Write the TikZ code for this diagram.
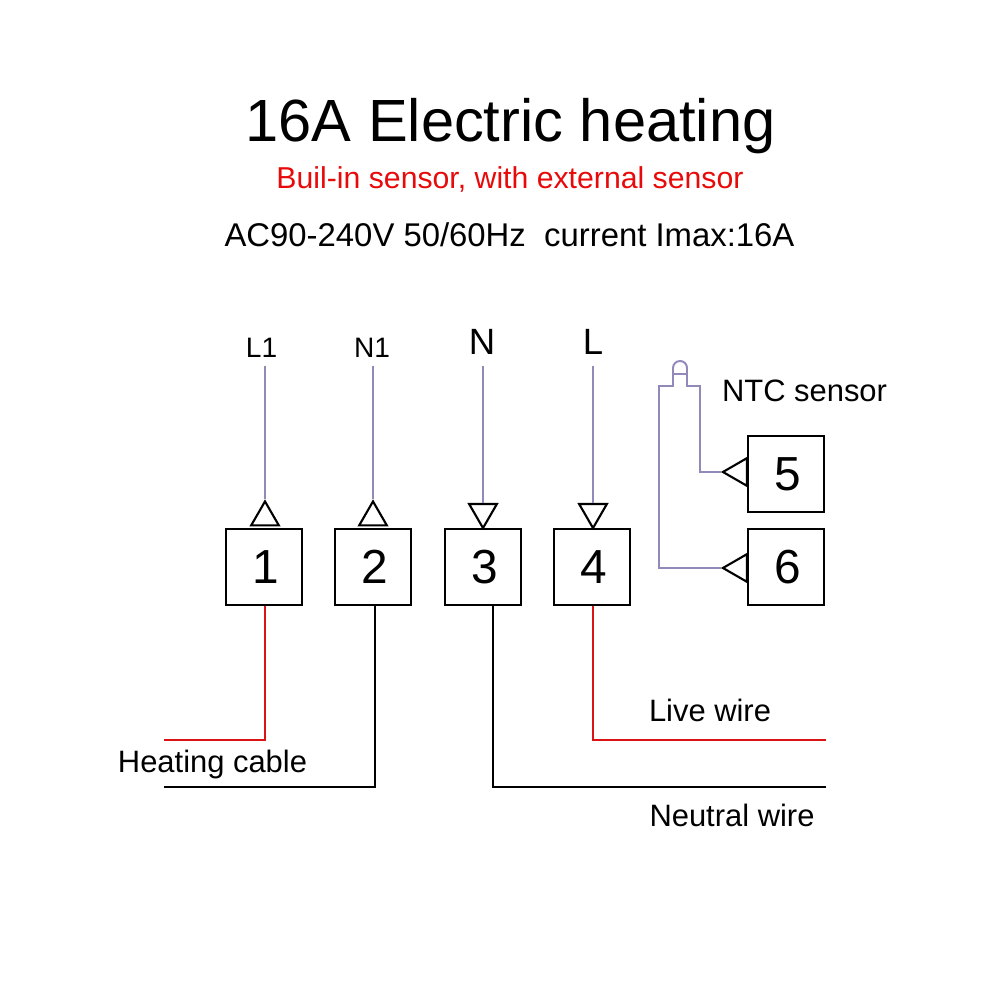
\documentclass[tikz,border=0pt]{standalone}
\usepackage{fontspec}
\setmainfont{Liberation Sans}
\usetikzlibrary{shapes.geometric, positioning}

\definecolor{wirepurple}{RGB}{146,136,186}
\definecolor{wirered}{RGB}{218,20,20}
\definecolor{textred}{RGB}{232,10,10}

\begin{document}
\begin{tikzpicture}[
    terminal/.style={rectangle, draw=black, line width=0.6pt, minimum size=0.755cm, inner sep=0pt, font=\fontsize{13.6}{13.6}\selectfont, execute at begin node={\hspace{0.03cm}}},
    tip/.style={regular polygon, regular polygon sides=3, draw=black, line width=0.6pt, fill=white, minimum size=0.32cm, inner sep=0pt},
    sensorwire/.style={draw=wirepurple, line width=0.55pt},
    livewire/.style={draw=wirered, line width=0.55pt},
    neutralwire/.style={draw=black, line width=0.55pt},
    label/.style={anchor=base, inner sep=0pt, font=\fontsize{8.8}{8.8}\selectfont},
    bigpin/.style={anchor=base, inner sep=0pt, font=\fontsize{10.4}{10.4}\selectfont},
    smallpin/.style={anchor=base, inner sep=0pt, font=\fontsize{8}{8}\selectfont}
]
    \useasboundingbox (0,0) rectangle (10,10);

    % Headings
    \node[anchor=base, inner sep=0pt, font=\fontsize{16.95}{16.95}\selectfont] (title) at (5.105,8.58) {16A Electric heating};
    \node[anchor=base, inner sep=0pt, text=textred, font=\fontsize{8.6}{8.6}\selectfont] (subtitle) at (5.10,8.11) {Buil-in sensor, with external sensor};
    \node[anchor=base, inner sep=0pt, font=\fontsize{9.35}{9.35}\selectfont] (rating) at (5.095,7.535) {AC90-240V 50/60Hz\ \ current Imax:16A};

    % Terminals
    \node[terminal] (t1) at (2.64,4.33) {1};
    \node[terminal] (t2) at (3.73,4.33) {2};
    \node[terminal] (t3) at (4.83,4.33) {3};
    \node[terminal] (t4) at (5.92,4.33) {4};
    \node[terminal] (t5) at (7.86,5.26) {5};
    \node[terminal] (t6) at (7.86,4.33) {6};

    % Terminal tips
    \node[tip, anchor=side 2] (tip1) at (2.65,4.735) {};
    \node[tip, anchor=side 2] (tip2) at (3.73,4.735) {};
    \node[tip, shape border rotate=180, anchor=side 2] (tip3) at (4.83,4.97) {};
    \node[tip, shape border rotate=180, anchor=side 2] (tip4) at (5.93,4.97) {};
    \node[tip, shape border rotate=90, anchor=side 2] (tip5) at (7.48,5.28) {};
    \node[tip, shape border rotate=90, anchor=side 2] (tip6) at (7.48,4.32) {};

    % Supply labels
    \node[smallpin] (l1) at (2.615,6.42) {L1};
    \node[smallpin] (n1) at (3.72,6.42) {N1};
    \node[bigpin] (n) at (4.82,6.45) {N};
    \node[bigpin] (l) at (5.93,6.45) {L};

    \coordinate (top1) at (2.65,6.34);
    \coordinate (top2) at (3.73,6.34);
    \coordinate (top3) at (4.83,6.34);
    \coordinate (top4) at (5.93,6.34);

    \draw[sensorwire] (top1) -- (tip1.corner 1);
    \draw[sensorwire] (top2) -- (tip2.corner 1);
    \draw[sensorwire] (top3) -- (tip3.side 2);
    \draw[sensorwire] (top4) -- (tip4.side 2);

    % Sensor
    \node[label] (ntc) at (8.045,5.985) {NTC sensor};
    \coordinate (capl) at (6.73,6.26);
    \coordinate (capr) at (6.87,6.26);
    \coordinate (shl) at (6.59,6.14);
    \coordinate (shr) at (7.00,6.14);
    \draw[sensorwire] (tip6.corner 1) -| (shl) -- (shl -| capl) -- (capl) -- ++(0,0.06)
        arc[start angle=180, end angle=0, radius=0.07] -- (capr) -- (capr |- shr) -- (shr) |- (tip5.corner 1);
    \draw[sensorwire] (capl) -- (capr);

    % Load and mains wires
    \coordinate (heat1) at (1.64,2.60);
    \coordinate (heat2) at (1.64,2.13);
    \coordinate (mainsl) at (8.26,2.60);
    \coordinate (mainsn) at (8.26,2.13);

    \draw[livewire] ([xshift=0.01cm]t1.south) |- (heat1);
    \draw[neutralwire] ([xshift=0.02cm]t2.south) |- (heat2);
    \draw[neutralwire] ([xshift=0.10cm]t3.south) |- (mainsn);
    \draw[livewire] ([xshift=0.01cm]t4.south) |- (mainsl);

    \node[label] (heating) at (2.125,2.27) {Heating cable};
    \node[label] (live) at (7.10,2.785) {Live wire};
    \node[label] (neutral) at (7.32,1.735) {Neutral wire};
\end{tikzpicture}
\end{document}
